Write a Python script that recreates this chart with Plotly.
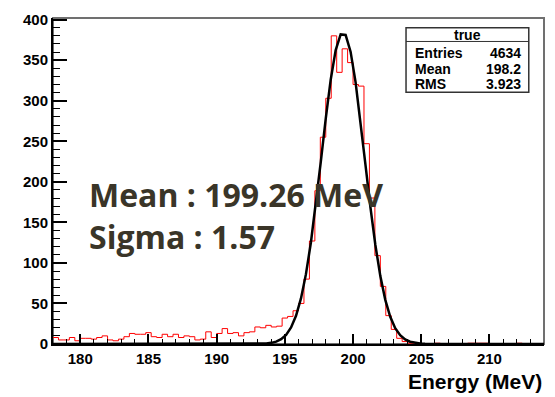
import numpy as np
import plotly.graph_objects as go

# ---- data ----
bin_start = 178.0
bin_width = 0.4
counts = [8, 5, 5, 8, 4, 7, 7, 6, 8, 10,
          5, 4, 6, 9, 13, 12, 12, 14, 9, 8,
          12, 9, 12, 8, 10, 9, 5, 6, 15, 8,
          13, 19, 13, 14, 10, 14, 15, 21, 20, 23,
          21, 22, 32, 34, 41, 50, 80, 127, 189, 255,
          303, 380, 335, 364, 347, 320, 318, 247, 180, 109,
          71, 35, 18, 7, 3, 1, 1, 0, 0, 0,
          1, 0, 0, 0, 0, 0, 1, 1, 1, 1,
          0, 0, 0, 0, 0, 1, 0, 0, 0, 0]

fit_const = 384.0
fit_mean = 199.26
fit_sigma = 1.57

x_range = [178, 214]
y_range = [0, 402]
x_ticks = [180, 185, 190, 195, 200, 205, 210]
y_ticks = [0, 50, 100, 150, 200, 250, 300, 350, 400]

stats_title = "true"
stats_labels = ["Entries", "Mean", "RMS"]
stats_values = ["4634", "198.2", "3.923"]

annot_lines = ["Mean : 199.26 MeV", "Sigma : 1.57"]
x_title = "Energy (MeV)"

# ---- build ----
n = len(counts)
edges = [bin_start + i * bin_width for i in range(n + 1)]
hx = edges
hy = counts + [counts[-1]]

fx = np.linspace(x_range[0], x_range[1], 100)
fy = fit_const * np.exp(-0.5 * ((fx - fit_mean) / fit_sigma) ** 2)

fig = go.Figure()
fig.add_trace(go.Scatter(x=hx, y=hy, mode="lines", line=dict(color="#ff0000", width=1, shape="hv"),
                         hoverinfo="skip", showlegend=False))
fig.add_trace(go.Scatter(x=fx, y=fy, mode="lines", line=dict(color="black", width=2.5),
                         hoverinfo="skip", showlegend=False))

tickfont = dict(family="Liberation Sans, Arial, sans-serif", size=15, color="black")

fig.update_layout(
    width=555, height=397,
    margin=dict(l=53, r=11, t=11, b=53),
    paper_bgcolor="white", plot_bgcolor="white",
    showlegend=False,
    xaxis=dict(range=x_range, tickvals=x_ticks, ticktext=["<b>%d</b>" % v for v in x_ticks],
               ticks="inside", ticklen=10, tickwidth=1.5,
               tickcolor="black", showgrid=False, zeroline=False, showline=True,
               linecolor="black", linewidth=2, tickfont=tickfont,
               minor=dict(dtick=1, ticks="inside", ticklen=5, tickcolor="black", tickwidth=1, showgrid=False)),
    yaxis=dict(range=y_range, tickvals=y_ticks, ticktext=["<b>%d</b>" % v for v in y_ticks],
               ticks="inside", ticklen=14, tickwidth=1.5,
               tickcolor="black", showgrid=False, zeroline=False, showline=True,
               linecolor="black", linewidth=2, tickfont=tickfont,
               minor=dict(dtick=10, ticks="inside", ticklen=7, tickcolor="black", tickwidth=1, showgrid=False)),
)

# frame (top/right grey)
fig.add_shape(type="rect", xref="paper", yref="paper", x0=0, x1=1, y0=0, y1=1,
              line=dict(color="#707070", width=2), layer="below")

# stats box
bx0, bx1, by0, by1 = 0.719, 0.969, 0.772, 0.970
fig.add_shape(type="rect", xref="paper", yref="paper", x0=bx0, x1=bx1, y0=by0, y1=by1,
              line=dict(color="#333333", width=1.5), fillcolor="white")
fig.add_shape(type="line", xref="paper", yref="paper", x0=bx0, x1=bx1, y0=0.928, y1=0.928,
              line=dict(color="#333333", width=1))
sfont = dict(family="Liberation Sans, Arial, sans-serif", size=14, color="black")
fig.add_annotation(xref="paper", yref="paper", x=(bx0 + bx1) / 2, y=0.949, text="<b>%s</b>" % stats_title,
                   showarrow=False, xanchor="center", yanchor="middle", font=sfont)
rows_y = [0.894, 0.845, 0.797]
for lab, val, yy in zip(stats_labels, stats_values, rows_y):
    fig.add_annotation(xref="paper", yref="paper", x=0.734, y=yy, text="<b>%s</b>" % lab,
                       showarrow=False, xanchor="left", yanchor="middle", font=sfont)
    fig.add_annotation(xref="paper", yref="paper", x=0.957, y=yy, text="<b>%s</b>" % val,
                       showarrow=False, xanchor="right", yanchor="middle", font=sfont)

# big annotation text
bigfont = dict(family="Open Sans, sans-serif", size=32, color="#3a3528")
for txt, yy in zip(annot_lines, [0.458, 0.330]):
    fig.add_annotation(xref="paper", yref="paper", x=0.069, y=yy, text="<b>%s</b>" % txt,
                       showarrow=False, xanchor="left", yanchor="middle", font=bigfont)

# axis title
fig.add_annotation(xref="paper", yref="paper", x=1.0, y=-0.114, text="<b>%s</b>" % x_title,
                   showarrow=False, xanchor="right", yanchor="middle",
                   font=dict(family="Liberation Sans, Arial, sans-serif", size=21, color="black"))

fig.write_html("out.html")
